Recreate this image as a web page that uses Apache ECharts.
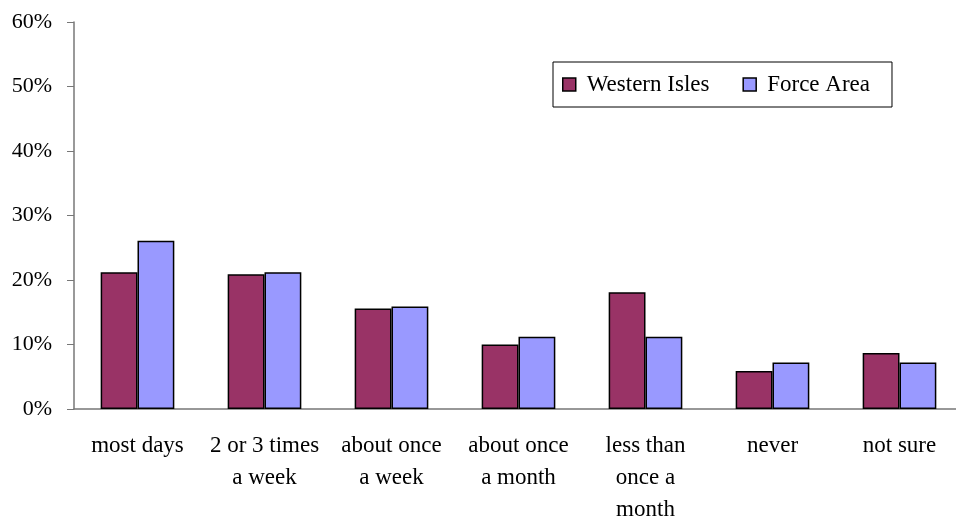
<!DOCTYPE html>
<html><head><meta charset="utf-8">
<script src="https://cdn.jsdelivr.net/npm/echarts@6/dist/echarts.min.js"></script>
<style>html,body{margin:0;padding:0;background:#fff;overflow:hidden}#c{width:956px;height:519px}</style>
</head><body><div id="c"></div>
<script>
const categories = ['most days', '2 or 3 times\na week', 'about once\na week', 'about once\na month', 'less than\nonce a\nmonth', 'never', 'not sure'];
const westernIsles = [21.2, 20.9, 15.6, 10.0, 18.1, 5.9, 8.7];
const forceArea = [26.1, 21.2, 15.9, 11.2, 11.2, 7.2, 7.2];
const yTicks = [0, 10, 20, 30, 40, 50, 60];

const font = 'Liberation Serif';
const chart = echarts.init(document.getElementById('c'));
chart.setOption({
  animation: false,
  backgroundColor: '#fff',
  grid: { left: 74, right: -7, top: 22, bottom: 110, containLabel: false, outerBoundsMode: 'none' },
  legend: {
    left: 553, top: 62, itemWidth: 13, itemHeight: 13, itemGap: 33, icon: 'rect',
    padding: [11, 22, 11, 9],
    borderColor: '#000', borderWidth: 1, backgroundColor: '#fff',
    textStyle: { fontFamily: font, fontSize: 23, color: '#000',
      rich: { t: { fontFamily: font, fontSize: 23, color: '#000', padding: [0, 0, 0, 6] } } },
    formatter: name => '{t|' + name + '}',
    data: [
      { name: 'Western Isles', itemStyle: { borderColor: '#000', borderWidth: 1.5 } },
      { name: 'Force Area', itemStyle: { borderColor: '#000', borderWidth: 1.5 } }
    ]
  },
  xAxis: {
    type: 'category', data: categories,
    axisLine: { lineStyle: { color: '#777', width: 1.5 } },
    axisTick: { length: 6, lineStyle: { color: '#777', width: 1.5 } },
    axisLabel: { interval: 0, margin: 21, lineHeight: 32, fontFamily: font, fontSize: 23, color: '#000' }
  },
  yAxis: {
    type: 'value', min: 0, max: 60, interval: 10,
    axisLine: { show: true, lineStyle: { color: '#777', width: 1.5 } },
    axisTick: { show: true, length: 7, lineStyle: { color: '#777', width: 1 } },
    splitLine: { show: false },
    axisLabel: { margin: 22, fontFamily: font, fontSize: 22, color: '#000',
      formatter: v => yTicks.includes(v) ? v + '%' : '' }
  },
  series: [
    { name: 'Western Isles', type: 'bar', data: westernIsles, barGap: '0%', barCategoryGap: '42%',
      itemStyle: { color: '#993366', borderColor: '#000', borderWidth: 1.5 } },
    { name: 'Force Area', type: 'bar', data: forceArea, barGap: '0%', barCategoryGap: '42%',
      itemStyle: { color: '#9999FF', borderColor: '#000', borderWidth: 1.5 } }
  ]
});
</script></body></html>
